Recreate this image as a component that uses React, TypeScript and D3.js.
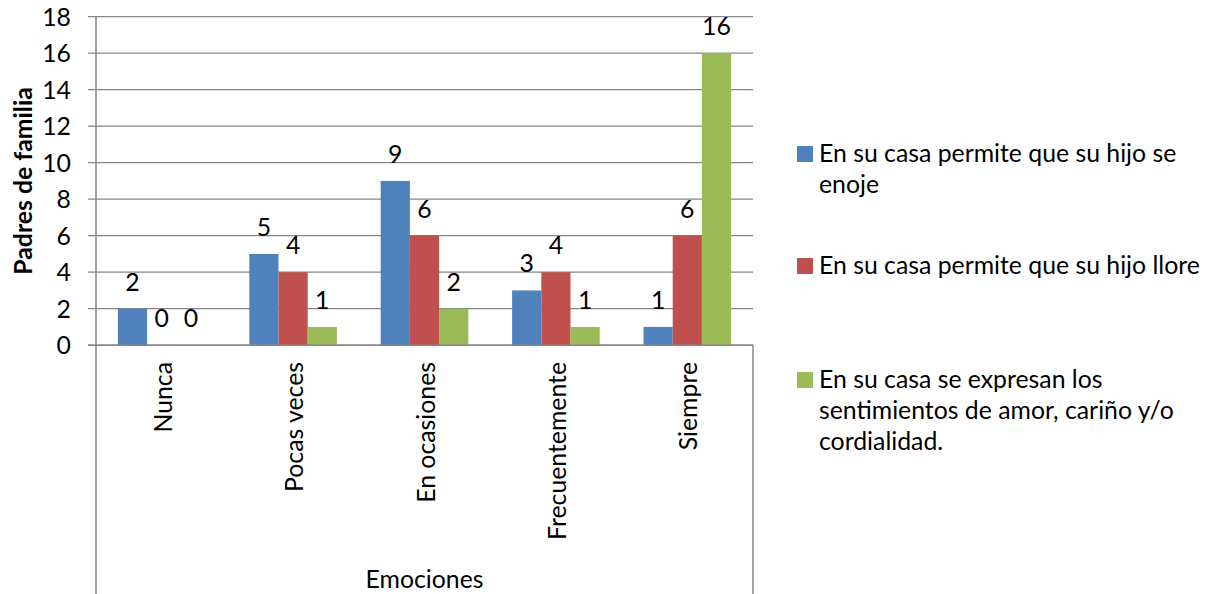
import React from "react";
import * as d3 from "d3";

const categories = ["Nunca", "Pocas veces", "En ocasiones", "Frecuentemente", "Siempre"];
const seriesNames = [
  "En su casa permite que su hijo se enoje",
  "En su casa permite que su hijo llore",
  "En su casa se expresan los sentimientos de amor, cariño y/o cordialidad.",
];
const legendLines = [
  ["En su casa permite que su hijo se", "enoje"],
  ["En su casa permite que su hijo llore"],
  ["En su casa se expresan los", "sentimientos de amor, cariño y/o", "cordialidad."],
];
const seriesEnoje = [2, 5, 9, 3, 1];
const seriesLlore = [0, 4, 6, 4, 6];
const seriesAmor = [0, 1, 2, 1, 16];
const yTicks = [0, 2, 4, 6, 8, 10, 12, 14, 16, 18];
const colors = ["#4F81BD", "#C0504D", "#9BBB59"];
const yTitle = "Padres de familia";
const xTitle = "Emociones";

const W = 1215;
const H = 594;
const left = 96;
const right = 753;
const top = 16.7;
const bottom = 345.2;
const FONT = "Lato, 'Open Sans', sans-serif";
const FS = 24.8;
const axisColor = "#868686";

export default function App() {
  const allSeries = [seriesEnoje, seriesLlore, seriesAmor];
  const x = d3.scaleBand<string>().domain(categories).range([left, right]).paddingInner(0).paddingOuter(0);
  const xs = d3
    .scaleBand<number>()
    .domain([0, 1, 2])
    .range([0, x.bandwidth()])
    .paddingInner(0)
    .paddingOuter(0.75);
  const y = d3.scaleLinear().domain([0, 18]).range([bottom, top]);

  const legendY = [154, 266, 380];

  return (
    <svg
      width={W}
      height={H}
      style={{ position: "absolute", left: 0, top: 0, background: "#fff" }}
      fontFamily={FONT}
    >
      <rect x={0} y={0} width={W} height={H} fill="#fff" />
      {/* gridlines */}
      {yTicks.map((t) => (
        <line key={"g" + t} x1={left - 8} x2={right} y1={y(t)} y2={y(t)} stroke={axisColor} strokeWidth={1.3} />
      ))}
      {/* y tick labels */}
      {yTicks.map((t) => (
        <text key={"t" + t} x={71} y={y(t)} dy="0.36em" textAnchor="end" fontSize={FS} fill="#000">
          {t}
        </text>
      ))}
      {/* bars */}
      {allSeries.map((s, si) =>
        s.map((v, ci) => (
          <rect
            key={`b${si}-${ci}`}
            x={(x(categories[ci]) as number) + (xs(si) as number)}
            y={y(v)}
            width={xs.bandwidth()}
            height={bottom - y(v)}
            fill={colors[si]}
          />
        ))
      )}
      {/* data labels */}
      {allSeries.map((s, si) =>
        s.map((v, ci) => (
          <text
            key={`l${si}-${ci}`}
            x={(x(categories[ci]) as number) + (xs(si) as number) + xs.bandwidth() / 2}
            y={y(v) - 18}
            textAnchor="middle"
            fontSize={FS}
            fill="#000"
          >
            {v}
          </text>
        ))
      )}
      {/* axes */}
      <line x1={left} x2={left} y1={top} y2={H} stroke={axisColor} strokeWidth={1.5} />
      <line x1={right} x2={right} y1={bottom} y2={H} stroke={axisColor} strokeWidth={1.5} />
      <line x1={left - 8} x2={right} y1={bottom} y2={bottom} stroke={axisColor} strokeWidth={1.5} />
      {/* category labels */}
      {categories.map((c) => (
        <text
          key={"c" + c}
          transform={`translate(${(x(c) as number) + x.bandwidth() / 2 + 10},${362}) rotate(-90)`}
          textAnchor="end"
          fontSize={FS}
          fill="#000"
        >
          {c}
        </text>
      ))}
      {/* axis titles */}
      <text
        transform={`translate(32,${(top + bottom) / 2}) rotate(-90)`}
        textAnchor="middle"
        fontSize={FS}
        fontWeight="bold"
        fill="#000"
      >
        {yTitle}
      </text>
      <text x={(left + right) / 2} y={588} textAnchor="middle" fontSize={FS} fill="#000">
        {xTitle}
      </text>
      {/* legend */}
      {seriesNames.map((name, i) => (
        <g key={"lg" + i}>
          <title>{name}</title>
          <rect x={797} y={legendY[i] - 8} width={16} height={16} fill={colors[i]} />
          {legendLines[i].map((ln, j) => (
            <text key={j} x={819} y={legendY[i] + 8 + j * 31} fontSize={FS} fill="#000">
              {ln}
            </text>
          ))}
        </g>
      ))}
    </svg>
  );
}
